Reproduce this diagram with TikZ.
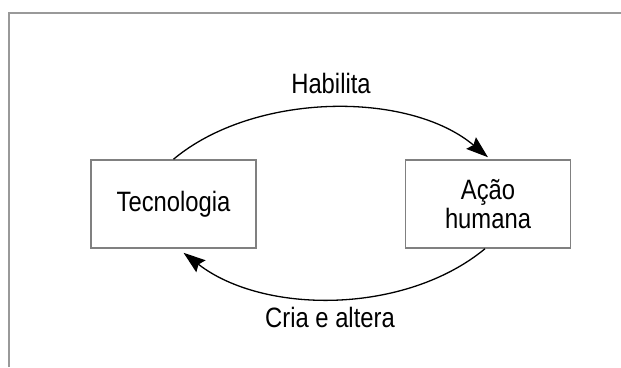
\documentclass[tikz,border=0pt]{standalone}
\usepackage{fontspec}
\setmainfont{Liberation Sans}[FakeStretch=0.85]
\usepackage{xcolor}
\usetikzlibrary{arrows.meta, positioning}

\begin{document}
\begin{tikzpicture}[
    x=1pt, y=1pt,
    box/.style={draw=black!50, line width=1.5pt, minimum width=165pt, minimum height=88pt, align=center, font=\fontsize{28}{29}\selectfont, inner sep=0pt},
    arr/.style={-{Stealth[length=22pt, width=15pt, inset=3pt]}, line width=1.3pt},
    lbl/.style={font=\fontsize{28}{29}\selectfont, inner sep=0pt},
]
\useasboundingbox (0,0) rectangle (621,367);

% outer frame (open at right and bottom)
\draw[black!40, line width=2pt] (9,0) -- (9,354) -- (621,354);

% the two boxes
\node[box] (tec) at (173.5,163) {Tecnologia};
\node[box] (acao) at (488,163) {Ação\\humana};

% cycle between them
\draw[arr] (tec.north) .. controls +(80,67) and +(-80,67) .. ([yshift=2pt]acao.north);
\node[lbl] (hab) at (331,284) {Habilita};
\draw[arr] ([xshift=-3pt]acao.south) .. controls +(-80,-66) and +(80,-62) .. ([xshift=10pt, yshift=-4pt]tec.south);
\node[lbl] (cria) at (330,50) {Cria e altera};

\end{tikzpicture}
\end{document}
